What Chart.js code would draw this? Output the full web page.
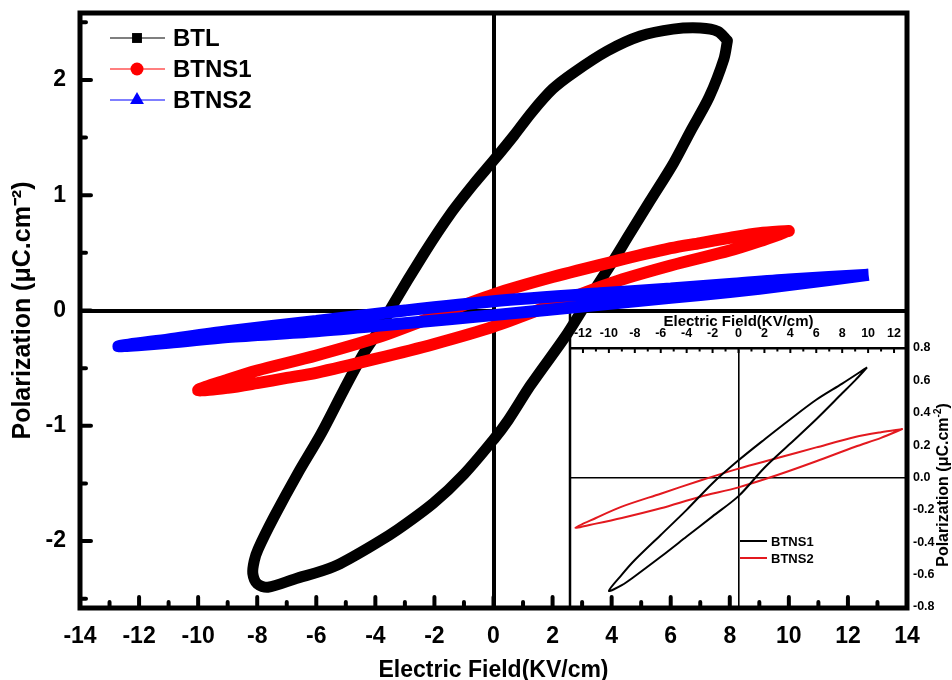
<!DOCTYPE html>
<html>
<head>
<meta charset="utf-8">
<script src="https://cdn.jsdelivr.net/npm/chart.js@4.4.1/dist/chart.umd.min.js"></script>
<style>
    html, body { margin: 0; padding: 0; background: #fff; }
    #wrap { position: relative; width: 952px; height: 680px; }
    #main { position: absolute; left: 0; top: 0; z-index: 2; }
    #inset { position: absolute; left: 560px; top: 312px; z-index: 1; }
</style>
</head>
<body>
<div id="wrap">
    <canvas id="inset" width="392" height="310"></canvas>
    <canvas id="main" width="952" height="680"></canvas>
</div>
<script>
// main loops (field in KV/cm, polarization in uC/cm2)
const btlField = [7.92, 7.8, 7.3, 6.66, 6.1, 5.3, 4.6, 4.05, 3.4, 2.5, 1.25, 0.5, 0, -1.0, -2.03, -3.24, -3.92, -5.4, -6.75, -7.64, -8.0, -8.15, -8.1, -7.97, -7.43, -6.62, -5.84, -5.07, -4.39, -3.82, -3.45, -2.36, -1.45, -0.66, 0, 0.7, 1.3, 2.0, 2.7, 3.85, 4.97, 6.08, 7.0, 7.6, 7.92];
const btlPol = [2.34, 2.18, 1.85, 1.55, 1.28, 0.95, 0.66, 0.43, 0.17, -0.2, -0.65, -0.95, -1.12, -1.42, -1.67, -1.9, -2.01, -2.22, -2.33, -2.40, -2.37, -2.28, -2.17, -2.07, -1.79, -1.41, -1.07, -0.69, -0.37, -0.15, 0.03, 0.49, 0.84, 1.10, 1.30, 1.52, 1.72, 1.92, 2.06, 2.25, 2.38, 2.44, 2.45, 2.42, 2.34];

const btns1Field = [10, 9, 8, 7, 6, 4, 2, 0, -2, -4, -6, -8, -9, -10, -9, -8, -7, -6, -4, -2, 0, 2, 4, 6, 8, 9, 10];
const btns1Pol = [0.69, 0.67, 0.63, 0.585, 0.54, 0.42, 0.29, 0.14, -0.05, -0.24, -0.39, -0.52, -0.6, -0.69, -0.67, -0.63, -0.585, -0.54, -0.42, -0.29, -0.14, 0.05, 0.24, 0.39, 0.52, 0.6, 0.69];

const btns2Field = [12.7, 10, 8, 6, 3.6, 0, -3, -6, -9, -11, -12.7, -11, -9, -6, -3, 0, 3.6, 6, 8, 10, 12.7];
const btns2Pol = [0.31, 0.27, 0.23, 0.19, 0.15, 0.08, 0.0, -0.09, -0.18, -0.25, -0.31, -0.28, -0.23, -0.18, -0.11, -0.04, 0.05, 0.11, 0.16, 0.22, 0.31];

// inset loops
const insetBtns1Field = [9.92, 8, 6, 4, 2, 0, -2, -4, -6, -8, -9, -10, -9, -8, -6, -4, -2, 0, 2, 4, 6, 8, 9, 9.92];
const insetBtns1Pol = [0.68, 0.58, 0.48, 0.36, 0.235, 0.106, -0.035, -0.2, -0.355, -0.51, -0.6, -0.70, -0.665, -0.61, -0.49, -0.365, -0.24, -0.115, 0.06, 0.21, 0.36, 0.52, 0.6, 0.68];

const insetBtns2Field = [12.67, 11, 9, 6, 3, 0, -3, -6, -9, -11, -12.58, -11, -9, -6, -3, 0, 3, 6, 9, 11, 12.67];
const insetBtns2Pol = [0.30, 0.28, 0.25, 0.186, 0.12, 0.055, -0.02, -0.1, -0.18, -0.25, -0.31, -0.285, -0.25, -0.19, -0.12, -0.061, 0.015, 0.1, 0.19, 0.245, 0.30];

const mainXTicks = {min: -14, max: 14, step: 2};
const mainYTicks = {min: -2.58, max: 2.58, step: 1};
const insetXTicks = {min: -13, max: 13, step: 2};
const insetYTicks = {min: -0.8, max: 0.8, step: 0.2};

const FONT = '"Liberation Sans", Arial, sans-serif';
Chart.defaults.font.family = FONT;
Chart.defaults.color = '#000';

const pts = (xs, ys) => xs.map((v, i) => ({x: v, y: ys[i]}));
const zeroOnly = c => (c.tick && c.tick.value === 0) ? '#000' : 'rgba(0,0,0,0)';
const noPad = s => { s.paddingTop = 0; s.paddingBottom = 0; s.paddingLeft = 0; s.paddingRight = 0; };

// frame and inward ticks of the main plot
const mainFrame = {
    id: 'mainFrame',
    afterDraw(chart) {
        const {ctx, chartArea: a, scales: {x, y}} = chart;
        ctx.save();
        ctx.strokeStyle = '#000';
        ctx.lineCap = 'round';
        ctx.lineWidth = 4;
        ctx.beginPath();
        for (let v = x.min + 1; v < x.max; v++) {
            let px = x.getPixelForValue(v);
            let len = v % 2 === 0 ? 11 : 6;
            ctx.moveTo(px, a.bottom);
            ctx.lineTo(px, a.bottom - len);
        }
        for (let v = -2.5; v <= 2.5; v += 0.5) {
            let py = y.getPixelForValue(v);
            let len = Number.isInteger(v) ? 11 : 6;
            ctx.moveTo(a.left, py);
            ctx.lineTo(a.left + len, py);
        }
        ctx.stroke();
        ctx.lineCap = 'butt';
        ctx.lineJoin = 'miter';
        ctx.lineWidth = 5;
        ctx.strokeRect(a.left, a.top, a.right - a.left, a.bottom - a.top);
        ctx.restore();
    }
};

// legend with line + marker, top left
const mainLegend = {
    id: 'mainLegend',
    afterDraw(chart) {
        const ctx = chart.ctx;
        ctx.save();
        chart.data.datasets.forEach((ds, i) => {
            let yy = 38 + i * 31;
            ctx.strokeStyle = ds.borderColor;
            ctx.lineWidth = 1.2;
            ctx.beginPath();
            ctx.moveTo(110, yy);
            ctx.lineTo(165, yy);
            ctx.stroke();
            ctx.fillStyle = ds.borderColor;
            Chart.helpers.drawPoint(ctx, {pointStyle: ds.pointStyle, radius: ds.legendRadius, rotation: 0, borderWidth: 0}, 137, yy);
            ctx.fillStyle = '#000';
            ctx.font = 'bold 24px ' + FONT;
            ctx.textBaseline = 'middle';
            ctx.fillText(ds.label, 173, yy + 1);
        });
        ctx.restore();
    }
};

const mainChart = new Chart(document.getElementById('main'), {
    type: 'scatter',
    data: {
        datasets: [
            {label: 'BTL', data: pts(btlField, btlPol), borderColor: '#000000', backgroundColor: '#000000',
                borderWidth: 11, pointStyle: 'rect', legendRadius: 7, order: 3},
            {label: 'BTNS1', data: pts(btns1Field, btns1Pol), borderColor: '#ff0000', backgroundColor: '#ff0000',
                borderWidth: 12, pointStyle: 'circle', legendRadius: 6.5, order: 2},
            {label: 'BTNS2', data: pts(btns2Field, btns2Pol), borderColor: '#0000ff', backgroundColor: '#0000ff',
                borderWidth: 12, pointStyle: 'triangle', legendRadius: 8, order: 1,
                borderJoinStyle: 'bevel', borderCapStyle: 'butt'}
        ].map(ds => Object.assign({showLine: true, pointRadius: 0, tension: 0.3, borderJoinStyle: 'round', borderCapStyle: 'round'}, ds))
    },
    options: {
        responsive: false,
        animation: false,
        layout: {padding: {top: 13, right: 45, bottom: 0, left: 0}},
        plugins: {legend: {display: false}, tooltip: {enabled: false}},
        scales: {
            x: {
                type: 'linear', position: 'bottom', min: mainXTicks.min, max: mainXTicks.max,
                ticks: {stepSize: mainXTicks.step, includeBounds: false, padding: 15, font: {size: 23, weight: 'bold'}, color: '#000'},
                grid: {drawTicks: false, color: zeroOnly, lineWidth: 4},
                border: {display: false},
                title: {display: true, text: 'Electric Field(KV/cm)', color: '#000', font: {size: 23, weight: 'bold', lineHeight: 0.85}, padding: {top: 0, bottom: 0}},
                afterFit: s => { s.height = 72; noPad(s); }
            },
            y: {
                type: 'linear', min: mainYTicks.min, max: mainYTicks.max,
                ticks: {stepSize: mainYTicks.step, includeBounds: false, padding: 14, font: {size: 23, weight: 'bold'}, color: '#000'},
                grid: {drawTicks: false, color: zeroOnly, lineWidth: 4},
                border: {display: false},
                title: {display: true, text: 'Polarization (μC.cm⁻²)', color: '#000', font: {size: 25, weight: 'bold'}, padding: {top: 8, bottom: 0}},
                afterFit: s => { s.width = 80; noPad(s); }
            }
        }
    },
    plugins: [mainFrame, mainLegend]
});

// inset extras: left border, inward top ticks, legend, right axis title
const insetExtras = {
    id: 'insetExtras',
    afterDraw(chart) {
        const {ctx, chartArea: a, scales: {x}} = chart;
        ctx.save();
        ctx.strokeStyle = '#000';
        ctx.lineWidth = 2.5;
        ctx.beginPath();
        ctx.moveTo(a.left, 0);
        ctx.lineTo(a.left, a.bottom + 3);
        ctx.stroke();
        ctx.lineWidth = 2;
        ctx.beginPath();
        for (let v = x.min + 1; v < x.max; v++) {
            let px = x.getPixelForValue(v);
            let len = v % 2 === 0 ? 5 : 3.5;
            ctx.moveTo(px, a.top);
            ctx.lineTo(px, a.top + len);
        }
        ctx.stroke();

        chart.data.datasets.forEach((ds, i) => {
            let yy = 229 + i * 17;
            ctx.strokeStyle = ds.borderColor;
            ctx.lineWidth = 2;
            ctx.beginPath();
            ctx.moveTo(180, yy);
            ctx.lineTo(207, yy);
            ctx.stroke();
            ctx.fillStyle = '#000';
            ctx.font = 'bold 13px ' + FONT;
            ctx.textBaseline = 'middle';
            ctx.fillText(ds.label, 211, yy + 1);
        });

        // right axis title, reads bottom to top, with a real superscript
        ctx.translate(384, 173);
        ctx.rotate(-Math.PI / 2);
        ctx.fillStyle = '#000';
        ctx.textBaseline = 'middle';
        const big = 'bold 16px ' + FONT, small = 'bold 10px ' + FONT;
        const p1 = 'Polarization (μC.cm', p2 = '-2', p3 = ')';
        ctx.font = big;
        let w1 = ctx.measureText(p1).width, w3 = ctx.measureText(p3).width;
        ctx.font = small;
        let w2 = ctx.measureText(p2).width;
        let sx = -(w1 + w2 + w3) / 2;
        ctx.font = big;
        ctx.fillText(p1, sx, 0);
        ctx.font = small;
        ctx.fillText(p2, sx + w1, -6);
        ctx.font = big;
        ctx.fillText(p3, sx + w1 + w2, 0);
        ctx.restore();
    }
};

const insetChart = new Chart(document.getElementById('inset'), {
    type: 'scatter',
    data: {
        datasets: [
            {label: 'BTNS1', data: pts(insetBtns1Field, insetBtns1Pol), borderColor: '#000000'},
            {label: 'BTNS2', data: pts(insetBtns2Field, insetBtns2Pol), borderColor: '#e3191f'}
        ].map(ds => Object.assign({showLine: true, pointRadius: 0, borderWidth: 2, tension: 0.3}, ds))
    },
    options: {
        responsive: false,
        animation: false,
        layout: {padding: {top: 0, right: 0, bottom: 15, left: 10}},
        plugins: {legend: {display: false}, tooltip: {enabled: false}},
        scales: {
            x: {
                type: 'linear', position: 'top', min: insetXTicks.min, max: insetXTicks.max,
                ticks: {stepSize: 1, autoSkip: false, maxRotation: 0, padding: 6.5, font: {size: 12.5, weight: 'bold'}, color: '#000',
                    callback: v => (v % insetXTicks.step === 0 ? v : '')},
                grid: {drawTicks: false, color: zeroOnly, lineWidth: 1.6},
                border: {display: true, color: '#000', width: 2.5},
                title: {display: true, text: 'Electric Field(KV/cm)', color: '#000', font: {size: 15, weight: 'bold'}, padding: {top: 1, bottom: 0}},
                afterFit: s => { s.height = 36; noPad(s); }
            },
            y: {
                type: 'linear', position: 'right', min: insetYTicks.min, max: insetYTicks.max,
                ticks: {stepSize: insetYTicks.step, padding: 6, font: {size: 12.5, weight: 'bold'}, color: '#000',
                    callback: v => v.toFixed(1)},
                grid: {drawTicks: false, color: zeroOnly, lineWidth: 1.6},
                border: {display: false},
                afterFit: s => { s.width = 45; noPad(s); }
            }
        }
    },
    plugins: [insetExtras]
});
</script>
</body>
</html>
